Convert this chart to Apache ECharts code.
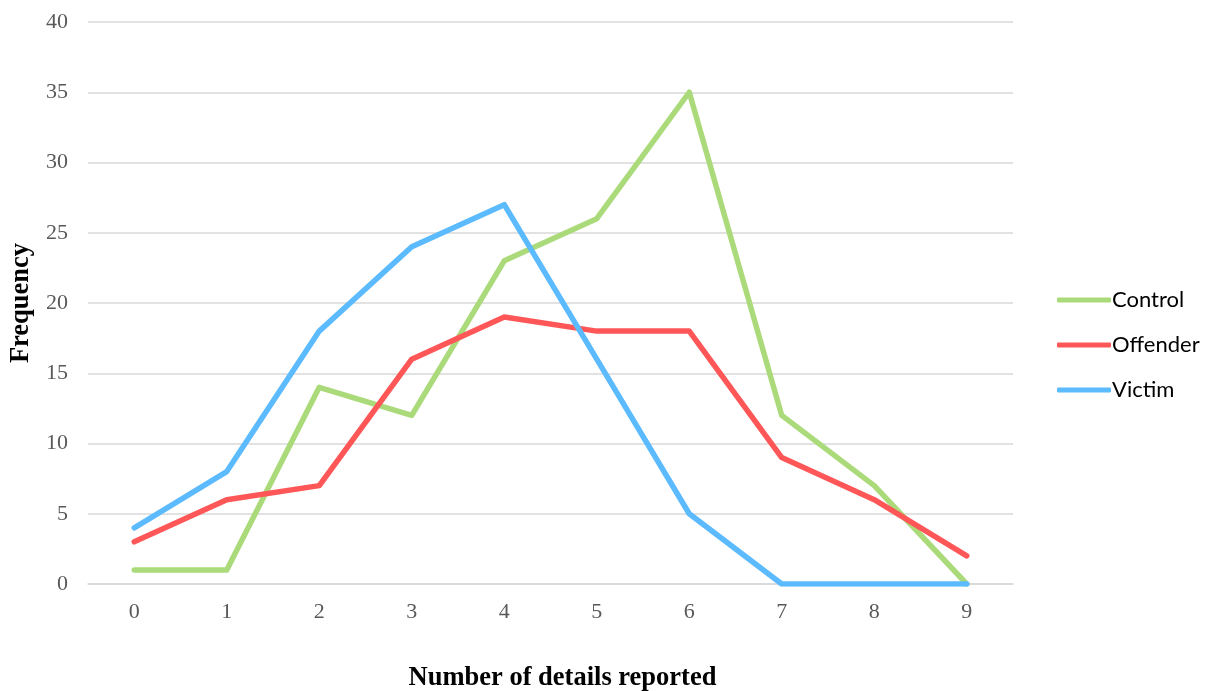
<!DOCTYPE html>
<html><head><meta charset="utf-8">
<script src="https://cdn.jsdelivr.net/npm/echarts@6/dist/echarts.min.js"></script>
<style>html,body{margin:0;padding:0;background:#fff}#c{width:1211px;height:691px}</style>
</head><body><div id="c"></div>
<script>
const categories = ['0','1','2','3','4','5','6','7','8','9'];
const control = [1, 1, 14, 12, 23, 26, 35, 12, 7, 0];
const offender = [3, 6, 7, 16, 19, 18, 18, 9, 6, 2];
const victim = [4, 8, 18, 24, 27, 16, 5, 0, 0, 0];
const seriesNames = ['Control', 'Offender', 'Victim'];
const colors = ['#ABDA7A', '#FF5757', '#5CBAFE'];

const chart = echarts.init(document.getElementById('c'));
const mk = (name, data, color) => ({
  name, type: 'line', data, symbol: 'none', smooth: false,
  lineStyle: { width: 5.5, color, join: 'round', cap: 'round' },
  itemStyle: { color }
});
chart.setOption({
  animation: false,
  color: colors,
  grid: { left: 88, right: 198, top: 22, bottom: 107, containLabel: false, outerBoundsMode: 'none' },
  legend: {
    orient: 'vertical', left: 1052, top: 284,
    itemWidth: 54, itemHeight: 5, itemGap: 23,
    icon: 'roundRect',
    data: seriesNames,
    textStyle: { fontFamily: 'Lato', fontSize: 22, lineHeight: 22, color: '#000', padding: [0,0,0,-4] }
  },
  xAxis: {
    type: 'category', data: categories, boundaryGap: true,
    axisLine: { lineStyle: { color: '#d9d9d9', width: 1.5 } },
    axisTick: { show: false },
    axisLabel: { margin: 17, fontFamily: 'Liberation Serif', fontSize: 22, color: '#595959' },
    name: 'Number of details reported', nameLocation: 'middle', nameGap: 81,
    nameTextStyle: { fontFamily: 'Liberation Serif', fontWeight: 'bold', fontSize: 26.5, color: '#000', padding: [0,0,0,24] }
  },
  yAxis: {
    type: 'value', min: 0, max: 40, interval: 5,
    axisLine: { show: false }, axisTick: { show: false },
    splitLine: { lineStyle: { color: '#d9d9d9', width: 1.5 } },
    axisLabel: { margin: 20, fontFamily: 'Liberation Serif', fontSize: 22, color: '#595959' },
    name: 'Frequency', nameLocation: 'middle', nameGap: 46,
    nameTextStyle: { fontFamily: 'Liberation Serif', fontWeight: 'bold', fontSize: 26.5, color: '#000' }
  },
  series: [mk(seriesNames[0], control, colors[0]), mk(seriesNames[1], offender, colors[1]), mk(seriesNames[2], victim, colors[2])]
});
</script></body></html>
